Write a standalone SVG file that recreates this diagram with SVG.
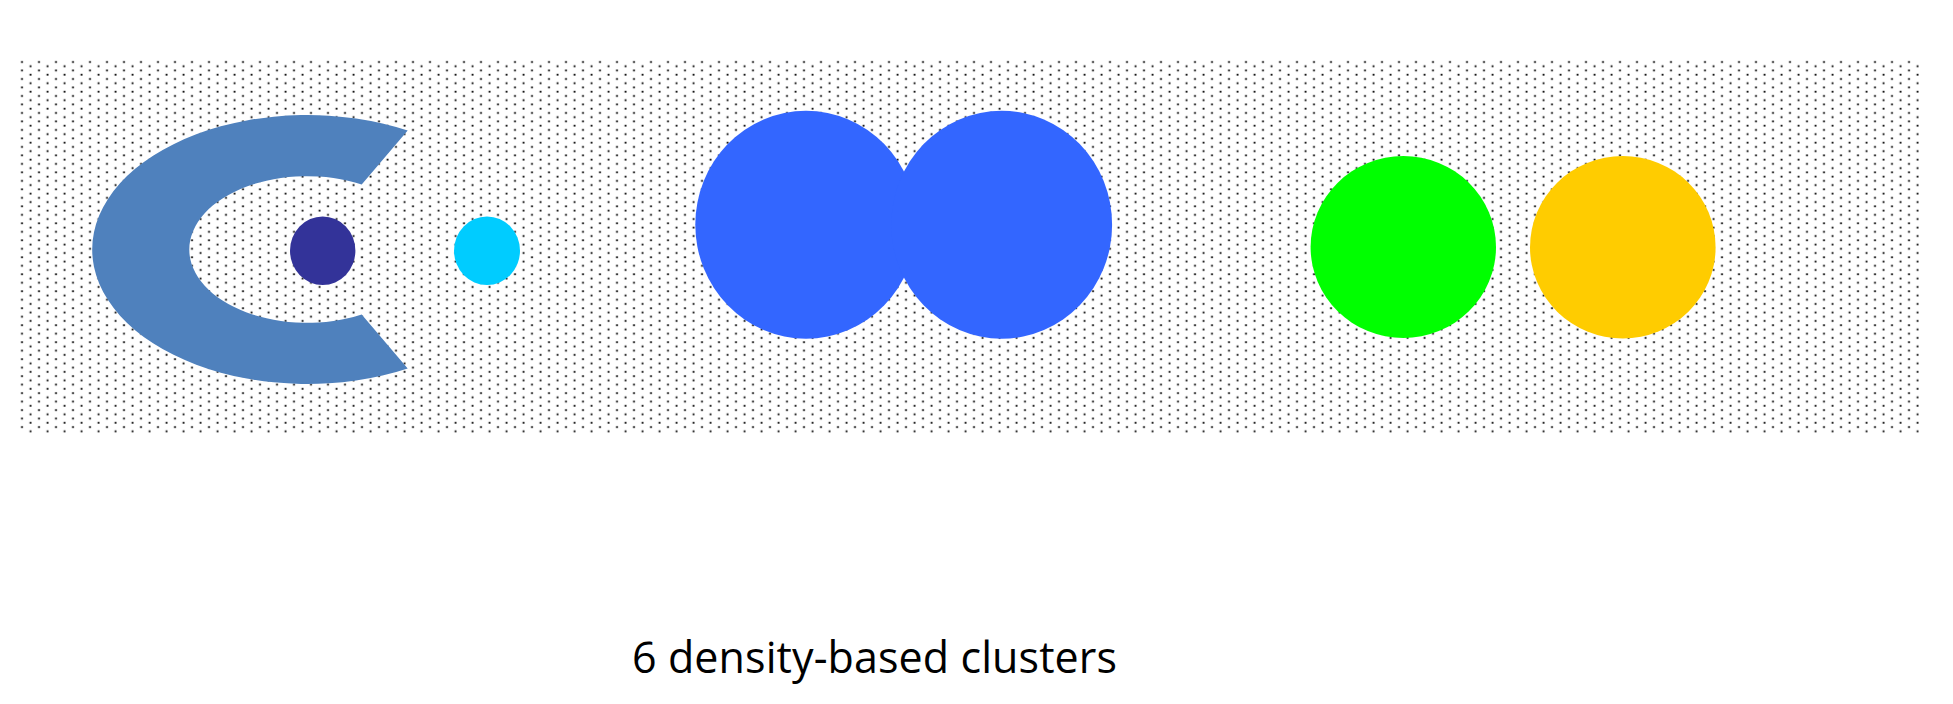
<svg xmlns="http://www.w3.org/2000/svg" width="1953" height="704" viewBox="0 0 1953 704">
  <style>
    .label { font-family: "Open Sans", "Noto Sans", "Liberation Sans", sans-serif; font-size: 43px; fill: #000000; }
  </style>
  <defs>
    <pattern id="dots" patternUnits="userSpaceOnUse" x="17.75" y="59.88" width="17" height="8.49">
      <rect x="3.35" y="1.22" width="1.8" height="1.8" fill="#000000"/>
      <rect x="11.85" y="5.46" width="1.8" height="1.8" fill="#000000"/>
    </pattern>
  </defs>
  <rect x="0" y="0" width="1953" height="704" fill="#ffffff"/>
  <g id="background-field">
    <rect x="18" y="60" width="1903" height="373" fill="url(#dots)"/>
  </g>
  <g id="connectors"></g>
  <g id="cluster-c-shape">
    <path d="M407.7,130.6 A215,134.5 0 1 0 407.7,368.4 L361.7,314.4 A117.7,73.3 0 1 1 361.7,184.6 Z" fill="#4F81BD"/>
  </g>
  <g id="cluster-dark-dot">
    <ellipse cx="322.7" cy="250.7" rx="32.7" ry="34.3" fill="#333399"/>
  </g>
  <g id="cluster-cyan-dot">
    <ellipse cx="487" cy="250.7" rx="33" ry="34.3" fill="#00CCFF"/>
  </g>
  <g id="cluster-blue-pair">
    <ellipse cx="806" cy="224.7" rx="110.7" ry="114" fill="#3366FF"/>
    <ellipse cx="1001.7" cy="224.7" rx="110.4" ry="114" fill="#3366FF"/>
  </g>
  <g id="cluster-green">
    <ellipse cx="1403.3" cy="247" rx="92.7" ry="91" fill="#00FF00"/>
  </g>
  <g id="cluster-orange">
    <ellipse cx="1622.8" cy="247.2" rx="92.8" ry="91.2" fill="#FFCC00"/>
  </g>
  <g id="caption">
    <text class="label" x="632" y="673" textLength="485" lengthAdjust="spacing">6 density-based clusters</text>
  </g>
</svg>
